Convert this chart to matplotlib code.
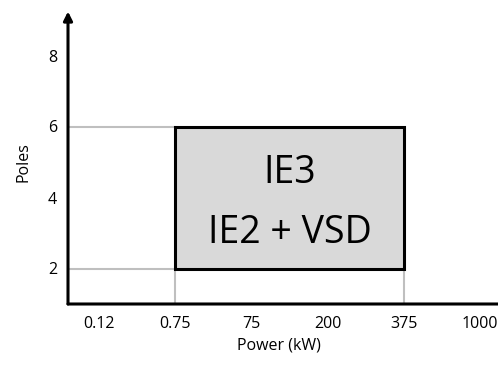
import matplotlib
matplotlib.use("Agg")
from matplotlib import pyplot as plt
from matplotlib.patches import Rectangle

plt.rcParams['font.family'] = ['Open Sans', 'DejaVu Sans']

power_labels = ['0.12', '0.75', '75', '200', '375', '1000']
pole_ticks = [2, 4, 6, 8]
region_power = ('0.75', '375')
region_poles = (2, 6)
region_text = ['IE3', 'IE2 + VSD']

fig = plt.figure(figsize=(4.98, 3.65), dpi=100)
ax = fig.add_axes([68 / 498, 61 / 365, 422 / 498, 284 / 365])

x = list(range(len(power_labels)))
x0 = power_labels.index(region_power[0])
x1 = power_labels.index(region_power[1])
y0, y1 = region_poles
xmin, ymin = -0.41, 1.0

ax.set_xlim(xmin, 5.13)
ax.set_ylim(ymin, 9.0)

# gray guide lines
grey = '#bfbfbf'
ax.plot([xmin, x0], [y1, y1], color=grey, lw=1.5, zorder=1)
ax.plot([xmin, x0], [y0, y0], color=grey, lw=1.5, zorder=1)
ax.plot([x0, x0], [ymin, y0], color=grey, lw=1.5, zorder=1)
ax.plot([x1, x1], [ymin, y0], color=grey, lw=1.5, zorder=1)

ax.add_patch(Rectangle((x0, y0), x1 - x0, y1 - y0, facecolor='#d9d9d9',
                       edgecolor='black', lw=2.2, zorder=2))
cx = (x0 + x1) / 2
ax.text(cx, 4.42, region_text[0], ha='center', va='baseline', fontsize=27, zorder=3)
ax.text(cx, 2.73, region_text[1], ha='center', va='baseline', fontsize=27, zorder=3)

for s in ax.spines.values():
    s.set_visible(False)

# axes with arrows
ax.annotate('', xy=(1.09, 0), xytext=(0, 0), xycoords='axes fraction',
            arrowprops=dict(arrowstyle='-|>', lw=2.2, color='black', mutation_scale=13,
                            shrinkA=0, shrinkB=0), annotation_clip=False)
ax.annotate('', xy=(0, 1.03), xytext=(0, 0), xycoords='axes fraction',
            arrowprops=dict(arrowstyle='-|>', lw=2.2, color='black', mutation_scale=13,
                            shrinkA=0, shrinkB=0), annotation_clip=False)

ax.set_xticks(x)
ax.set_xticklabels(power_labels)
ax.set_yticks(pole_ticks)
ax.tick_params(axis='x', length=0, labelsize=11.5, pad=8.5)
ax.tick_params(axis='y', length=0, labelsize=11.5, pad=8)
ax.set_xlabel('Power (kW)', fontsize=11.5, labelpad=4)
ax.set_ylabel('Poles', fontsize=11.5, labelpad=12)

fig.savefig('out.png', dpi=100)
